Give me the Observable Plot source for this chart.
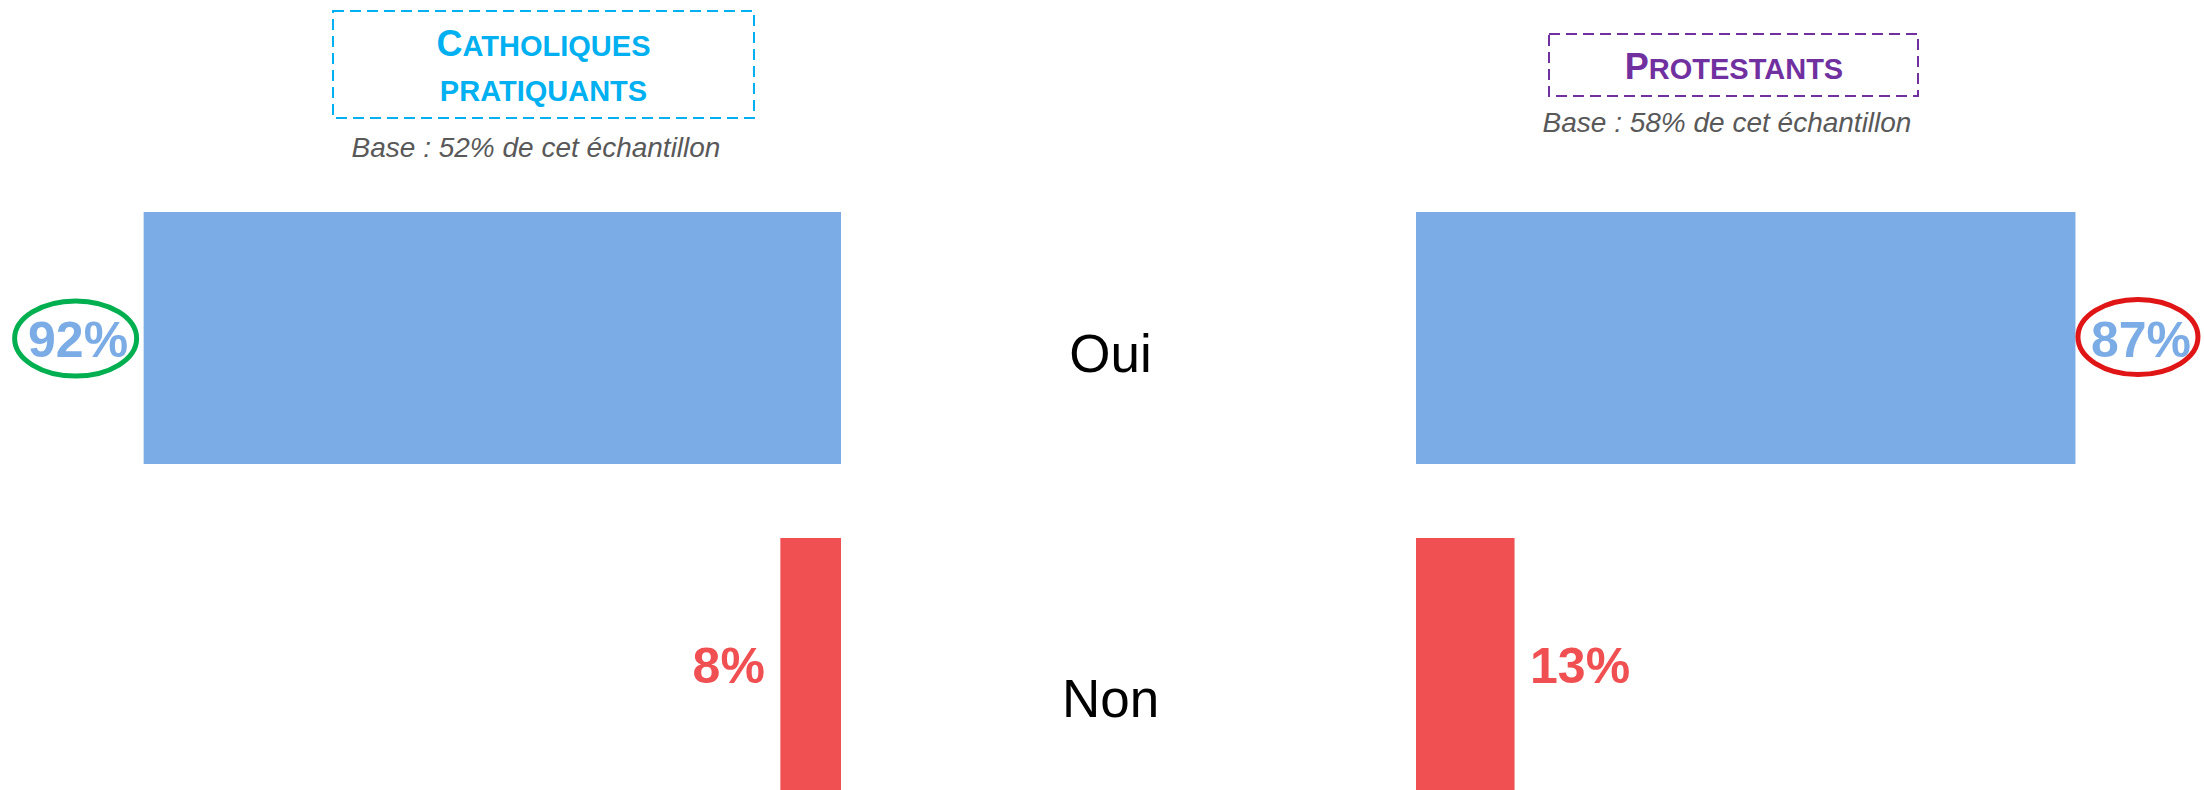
<!DOCTYPE html>
<html><head><meta charset="utf-8">
<script src="https://cdn.jsdelivr.net/npm/d3@7"></script>
<script src="https://cdn.jsdelivr.net/npm/@observablehq/plot@0.6"></script>
<style>
html,body{margin:0;padding:0;background:#fff;overflow:hidden}
#wrap{position:relative;width:2204px;height:790px;overflow:hidden;font-family:"Liberation Sans",Arial,sans-serif;background:#fff}
#wrap > svg{position:absolute;top:0}
</style></head><body><div id="wrap"></div>
<script>
// ---- data ----
const answers = ["Oui", "Non"];
const catholiquesValues = [92, 8];
const protestantsValues = [87, 13];
const groupTitles = [["Catholiques", "pratiquants"], ["Protestants"]];
const baseLabels = ["Base : 52% de cet échantillon", "Base : 58% de cet échantillon"];

// ---- styles ----
const FONT = '"Liberation Sans", Arial, sans-serif';
const barColors = ["#7CACE5", "#F05052"];
const titleColors = ["#00B0F0", "#7030A0"];

const cathData = answers.map((a, i) => ({answer: a, value: catholiquesValues[i]}));
const protData = answers.map((a, i) => ({answer: a, value: protestantsValues[i]}));

function ellipse(rx, ry) {
  const k = 0.5523;
  return {draw(ctx) {
    ctx.moveTo(rx, 0);
    ctx.bezierCurveTo(rx, ry * k, rx * k, ry, 0, ry);
    ctx.bezierCurveTo(-rx * k, ry, -rx, ry * k, -rx, 0);
    ctx.bezierCurveTo(-rx, -ry * k, -rx * k, -ry, 0, -ry);
    ctx.bezierCurveTo(rx * k, -ry, rx, -ry * k, rx, 0);
    ctx.closePath();
  }};
}

const yScale = {domain: answers, range: [137, 865], padding: 0.2263, axis: null};
const colorScale = {domain: answers, range: barColors};
const pct = d => d.value + "%";

const left = Plot.plot({
  width: 1000, height: 790,
  marginLeft: 83, marginRight: 159, marginTop: 0, marginBottom: 0,
  style: {fontFamily: FONT, background: "transparent", overflow: "visible"},
  x: {domain: [0, 100], reverse: true, axis: null},
  y: yScale,
  color: colorScale,
  marks: [
    Plot.barX(cathData, {x: "value", y: "answer", fill: "answer"}),
    Plot.text(cathData, {x: "value", y: "answer", text: pct, fill: "answer", textAnchor: "end",
      dx: -16, dy: 2, fontSize: 50, fontWeight: "bold"}),
    Plot.dot(cathData.filter(d => d.answer === "Oui"), {x: "value", y: "answer", dx: -68.5, dy: 0,
      symbol: ellipse(61, 37.5), fill: "none", stroke: "#00B050", strokeWidth: 5})
  ]
});

const middleDy = {Oui: 16.5, Non: 35.5};
const right = Plot.plot({
  width: 1204, height: 790,
  marginLeft: 416, marginRight: 30, marginTop: 0, marginBottom: 0,
  style: {fontFamily: FONT, background: "transparent", overflow: "visible"},
  x: {domain: [0, 100], axis: null},
  y: yScale,
  color: colorScale,
  marks: [
    Plot.barX(protData, {x: "value", y: "answer", fill: "answer"}),
    Plot.text(protData, {x: "value", y: "answer", text: pct, fill: "answer", textAnchor: "start",
      dx: 15, dy: 2, fontSize: 50, fontWeight: "bold"}),
    Plot.dot(protData.filter(d => d.answer === "Oui"), {x: "value", y: "answer", dx: 62, dy: -1.5,
      symbol: ellipse(60, 37.5), fill: "none", stroke: "#E01515", strokeWidth: 5}),
    ...answers.map(a => Plot.text([a], {y: d => d, text: d => d, frameAnchor: "left", dx: -306,
      dy: middleDy[a], textAnchor: "middle", fontSize: 53, fill: "#000"}))
  ]
});
left.style.left = "0px";
right.style.left = "1000px";

// ---- header ----
const header = d3.create("svg").attr("width", 2204).attr("height", 170)
  .style("left", "0px").style("font-family", FONT);
const boxes = [
  {x: 333, y: 11, w: 421, h: 107, cx: 543.5, lines: [56, 101], baseX: 536, baseY: 157},
  {x: 1549, y: 34, w: 369, h: 62, cx: 1734, lines: [79], baseX: 1727, baseY: 132}
];
boxes.forEach((b, gi) => {
  header.append("rect").attr("x", b.x).attr("y", b.y).attr("width", b.w).attr("height", b.h)
    .attr("fill", "none").attr("stroke", titleColors[gi]).attr("stroke-width", 2)
    .attr("stroke-dasharray", "11 6");
  groupTitles[gi].forEach((word, li) => {
    const t = header.append("text").attr("x", b.cx).attr("y", b.lines[li])
      .attr("text-anchor", "middle").attr("fill", titleColors[gi]).attr("font-weight", "bold");
    // small caps: initial capital of the first word larger
    if (li === 0) {
      t.append("tspan").attr("font-size", 36).text(word[0].toUpperCase());
      t.append("tspan").attr("font-size", 29).text(word.slice(1).toUpperCase());
    } else {
      t.append("tspan").attr("font-size", 29).text(word.toUpperCase());
    }
  });
  header.append("text").attr("x", b.baseX).attr("y", b.baseY).attr("text-anchor", "middle")
    .attr("font-size", 28).attr("font-style", "italic").attr("fill", "#595959").text(baseLabels[gi]);
});

const wrap = document.getElementById("wrap");
wrap.append(left, right, header.node());
</script>
</body></html>
